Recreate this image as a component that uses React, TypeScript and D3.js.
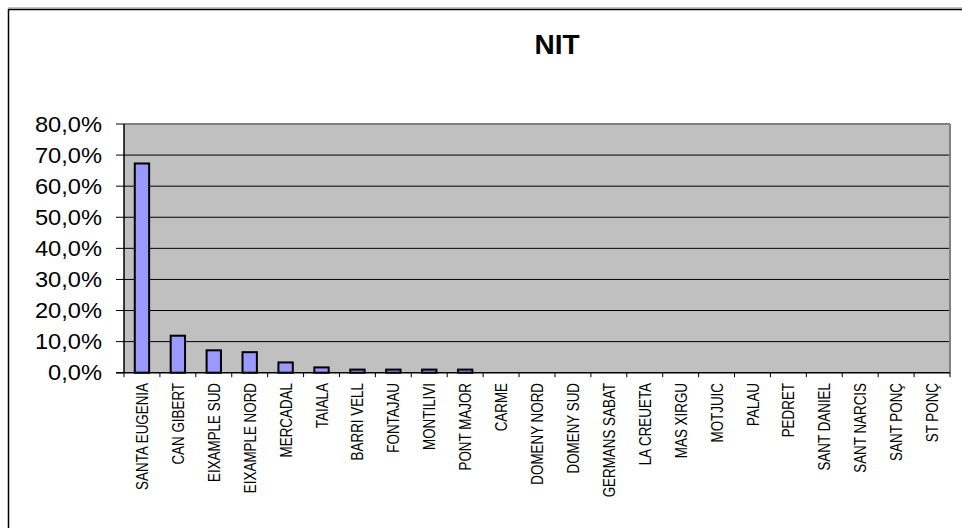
import React from "react";
import * as d3 from "d3";

const categories = [
  "SANTA EUGENIA", "CAN GIBERT", "EIXAMPLE SUD", "EIXAMPLE NORD", "MERCADAL", "TAIALA",
  "BARRI VELL", "FONTAJAU", "MONTILIVI", "PONT MAJOR", "CARME", "DOMENY NORD",
  "DOMENY SUD", "GERMANS SABAT", "LA CREUETA", "MAS XIRGU", "MOTJUIC", "PALAU",
  "PEDRET", "SANT DANIEL", "SANT NARCIS", "SANT PONÇ", "ST PONÇ",
];
const values = [67.3, 11.9, 7.2, 6.6, 3.3, 1.7, 1.0, 1.0, 1.0, 1.0, 0, 0, 0, 0, 0, 0, 0, 0, 0, 0, 0, 0, 0];
const yTicks = [0, 10, 20, 30, 40, 50, 60, 70, 80];
const title = "NIT";

const W = 962, H = 528;
const left = 124, right = 950, top = 124, bottom = 372.7;

export default function App() {
  const x = d3.scaleBand<string>().domain(categories).range([left, right]).padding(0);
  const y = d3.scaleLinear().domain([0, 80]).range([bottom, top]);
  const bw = x.bandwidth() * 0.4;
  const fmt = (v: number) => v.toFixed(1).replace(".", ",") + "%";
  const font = "'Liberation Sans', Arial, sans-serif";
  const step = x.step();
  const boundaries = d3.range(categories.length + 1).map((i) => left + i * step);

  return (
    <svg width={W} height={H} style={{ position: "absolute", left: 0, top: 0, background: "#fff" }} fontFamily={font}>
      <rect x={0} y={0} width={W} height={H} fill="#fff" />
      {/* outer frame */}
      <path d={`M8.5,${H} V9.5 H${W}`} fill="none" stroke="#000" strokeWidth={1.5} />
      <line x1={8} x2={W} y1={8} y2={8} stroke="#888" strokeWidth={1} />
      <text x={557} y={54} textAnchor="middle" fontSize={28} fontWeight="bold">{title}</text>

      {/* plot area */}
      <rect x={left} y={top} width={right - left} height={bottom - top} fill="#C0C0C0" />
      {yTicks.filter((t) => t > 0 && t < 80).map((t) => (
        <line key={t} x1={left} x2={right} y1={y(t)} y2={y(t)} stroke="#000" strokeWidth={1} />
      ))}
      <line x1={left} x2={right} y1={top} y2={top} stroke="#808080" strokeWidth={2} />
      <line x1={right} x2={right} y1={top} y2={bottom} stroke="#808080" strokeWidth={2} />

      {/* bars */}
      {categories.map((c, i) => {
        const v = values[i];
        if (!v) return null;
        const cx = (x(c) as number) + x.bandwidth() / 2;
        return (
          <rect key={c} x={cx - bw / 2} y={y(v)} width={bw} height={bottom - y(v)}
            fill="#9999FF" stroke="#000" strokeWidth={2} />
        );
      })}

      {/* axes */}
      <line x1={left} x2={left} y1={top} y2={bottom} stroke="#000" strokeWidth={1.5} />
      <line x1={left - 8} x2={right} y1={bottom} y2={bottom} stroke="#000" strokeWidth={1.5} />
      {yTicks.map((t) => (
        <g key={t}>
          <line x1={left - 8} x2={left} y1={y(t)} y2={y(t)} stroke="#000" strokeWidth={1} />
          <text transform={`translate(102,${y(t)}) scale(1.1,1)`} dy="0.36em" textAnchor="end" fontSize={21.5}>
            {fmt(t)}
          </text>
        </g>
      ))}
      {boundaries.map((bx, i) => (
        <line key={i} x1={bx} x2={bx} y1={bottom} y2={bottom + 4.5} stroke="#000" strokeWidth={1} />
      ))}
      {categories.map((c) => {
        const cx = (x(c) as number) + x.bandwidth() / 2;
        return (
          <text key={c} transform={`translate(${cx},383) scale(1.25,1) rotate(-90)`} dy="0.36em"
            textAnchor="end" fontSize={13.4}>
            {c}
          </text>
        );
      })}
    </svg>
  );
}
